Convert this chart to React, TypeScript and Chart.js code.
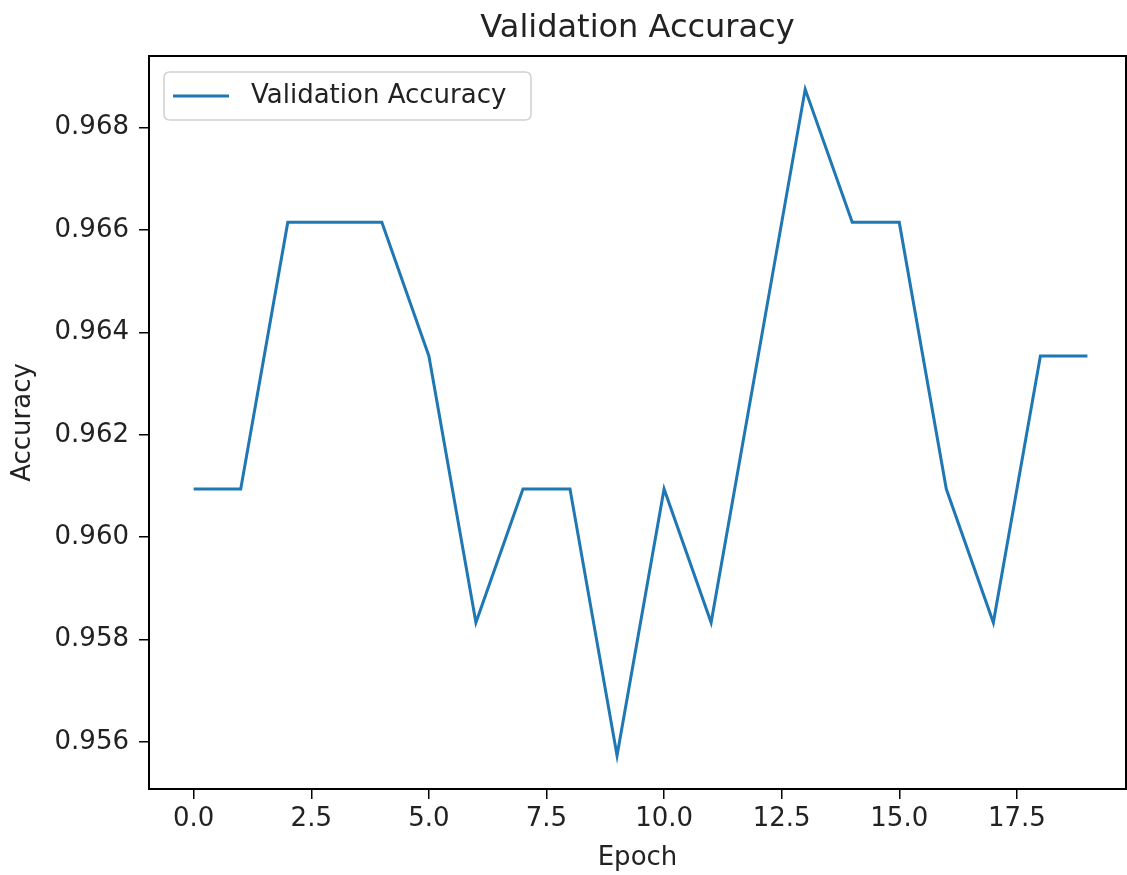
import React, { useEffect, useRef } from "react";
import { Chart, registerables } from "chart.js";

Chart.register(...registerables);

const epochs = [0, 1, 2, 3, 4, 5, 6, 7, 8, 9, 10, 11, 12, 13, 14, 15, 16, 17, 18, 19];
const valAccuracy = [
  0.96094, 0.96094, 0.96615, 0.96615, 0.96615, 0.96354, 0.95833, 0.96094, 0.96094, 0.95573,
  0.96094, 0.95833, 0.96354, 0.96875, 0.96615, 0.96615, 0.96094, 0.95833, 0.96354, 0.96354,
];
const xTicks = [0, 2.5, 5, 7.5, 10, 12.5, 15, 17.5];
const yTicks = [0.956, 0.958, 0.96, 0.962, 0.964, 0.966, 0.968];
const chartTitle = "Validation Accuracy";

const FONT = "'DejaVu Sans', 'Noto Sans', sans-serif";
const LINE_COLOR = "#1f77b4";
const TEXT_COLOR = "#222";

const framePlugin = {
  id: "frameAndLegend",
  afterDraw(chart: any) {
    const { ctx, chartArea } = chart;
    const { left, top, right, bottom } = chartArea;
    ctx.save();
    // title, centred over the plot area
    ctx.fillStyle = TEXT_COLOR;
    ctx.font = `32px ${FONT}`;
    ctx.textAlign = "center";
    ctx.textBaseline = "alphabetic";
    ctx.fillText(chartTitle, (left + right) / 2, top - 19);
    // frame
    ctx.strokeStyle = "#000";
    ctx.lineWidth = 2;
    ctx.strokeRect(left, top, right - left, bottom - top);
    // legend
    const ds = chart.data.datasets[0];
    const bx = left + 15;
    const by = top + 16;
    const bw = 367;
    const bh = 48;
    const r = 6;
    ctx.beginPath();
    ctx.moveTo(bx + r, by);
    ctx.lineTo(bx + bw - r, by);
    ctx.quadraticCurveTo(bx + bw, by, bx + bw, by + r);
    ctx.lineTo(bx + bw, by + bh - r);
    ctx.quadraticCurveTo(bx + bw, by + bh, bx + bw - r, by + bh);
    ctx.lineTo(bx + r, by + bh);
    ctx.quadraticCurveTo(bx, by + bh, bx, by + bh - r);
    ctx.lineTo(bx, by + r);
    ctx.quadraticCurveTo(bx, by, bx + r, by);
    ctx.closePath();
    ctx.fillStyle = "rgba(255,255,255,0.8)";
    ctx.fill();
    ctx.strokeStyle = "#d0d0d0";
    ctx.lineWidth = 1.5;
    ctx.stroke();
    const cy = by + bh / 2;
    ctx.beginPath();
    ctx.moveTo(bx + 9, cy);
    ctx.lineTo(bx + 65, cy);
    ctx.strokeStyle = ds.borderColor;
    ctx.lineWidth = 3;
    ctx.stroke();
    ctx.fillStyle = TEXT_COLOR;
    ctx.font = `26px ${FONT}`;
    ctx.textBaseline = "middle";
    ctx.textAlign = "left";
    ctx.fillText(ds.label, bx + 87, cy);
    ctx.restore();
  },
};

export default function App() {
  const ref = useRef<HTMLCanvasElement>(null);

  useEffect(() => {
    if (!ref.current) return;
    const chart = new Chart(ref.current, {
      type: "line",
      data: {
        datasets: [
          {
            label: "Validation Accuracy",
            data: epochs.map((e, i) => ({ x: e, y: valAccuracy[i] })),
            borderColor: LINE_COLOR,
            backgroundColor: LINE_COLOR,
            borderWidth: 3,
            pointRadius: 0,
            tension: 0,
            fill: false,
          },
        ],
      },
      options: {
        responsive: false,
        animation: false,
        layout: { padding: { left: 0, right: 1, top: 56, bottom: 0 } },
        plugins: {
          legend: { display: false },
          tooltip: { enabled: false },
          title: { display: false },
        },
        scales: {
          x: {
            type: "linear",
            min: -0.95,
            max: 19.82,
            afterBuildTicks: (scale: any) => {
              scale.ticks = xTicks.map((v) => ({ value: v }));
            },
            afterFit: (scale: any) => {
              scale.height = 86;
            },
            ticks: {
              color: TEXT_COLOR,
              font: { family: FONT, size: 26 },
              padding: 5,
              maxRotation: 0,
              autoSkip: false,
              callback: (v: any) => Number(v).toFixed(1),
            },
            grid: {
              display: true,
              drawOnChartArea: false,
              drawTicks: true,
              tickLength: 10,
              color: "#000",
              lineWidth: 1.5,
            },
            border: { display: false },
            title: {
              display: true,
              text: "Epoch",
              color: TEXT_COLOR,
              font: { family: FONT, size: 26 },
              padding: { top: 0, bottom: 1 },
            },
          },
          y: {
            type: "linear",
            min: 0.955078,
            max: 0.969401,
            afterBuildTicks: (scale: any) => {
              scale.ticks = yTicks.map((v) => ({ value: v }));
            },
            afterFit: (scale: any) => {
              scale.width = 149;
            },
            ticks: {
              color: TEXT_COLOR,
              font: { family: FONT, size: 26 },
              padding: 10,
              autoSkip: false,
              callback: (v: any) => Number(v).toFixed(3),
            },
            grid: {
              display: true,
              drawOnChartArea: false,
              drawTicks: true,
              tickLength: 10,
              color: "#000",
              lineWidth: 1.5,
            },
            border: { display: false },
            title: {
              display: true,
              text: "Accuracy",
              color: TEXT_COLOR,
              font: { family: FONT, size: 26 },
              padding: { top: 8, bottom: 0 },
            },
          },
        },
      },
      plugins: [framePlugin],
    });
    return () => chart.destroy();
  }, []);

  return (
    <div style={{ position: "absolute", left: 0, top: 0, width: 1127, height: 875, background: "#fff" }}>
      <canvas ref={ref} width={1127} height={875} style={{ display: "block" }} />
    </div>
  );
}
